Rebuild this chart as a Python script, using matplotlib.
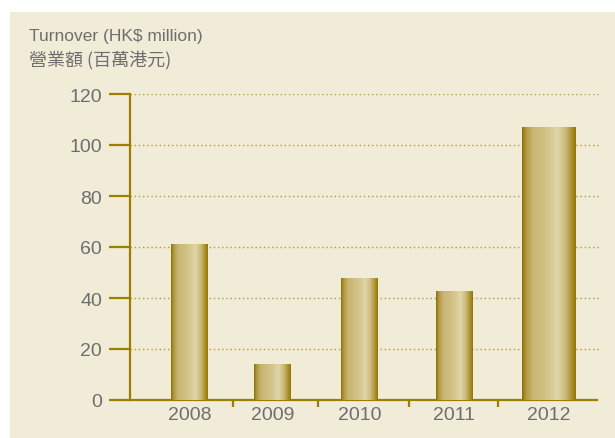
"""Turnover bar chart (HK$ million), 2008-2012."""

import matplotlib

matplotlib.use("Agg")
import matplotlib.pyplot as plt
import numpy as np
from matplotlib.colors import LinearSegmentedColormap
from matplotlib.patches import Rectangle

years = ["2008", "2009", "2010", "2011", "2012"]
turnover = [61.3, 14.2, 47.8, 42.8, 107.0]
y_ticks = [0, 20, 40, 60, 80, 100, 120]

# layout (pixel offsets from the y axis)
_X_POS = [59.5, 142.5, 229.5, 324.5, 419.0]
_WIDTHS = [37, 37, 37, 37, 54]
_SEPARATORS = [103, 188, 279, 368]

_BG = "#F1ECD8"
_AXIS = "#9C7F00"
_GRID = "#B39A3A"
_TEXT = "#6E6E6E"
_FONT = ["Liberation Sans", "DejaVu Sans"]

_BAR_CMAP = LinearSegmentedColormap.from_list(
    "gold",
    [
        (0.0, "#8A6E00"),
        (0.07, "#B09840"),
        (0.2, "#C9B674"),
        (0.45, "#D2C286"),
        (0.66, "#E0D6AA"),
        (0.8, "#CDBB7C"),
        (0.92, "#AC9332"),
        (1.0, "#927500"),
    ],
)

W, H = 615, 439
fig = plt.figure(figsize=(W / 100, H / 100), dpi=100)
fig.patch.set_facecolor("white")
fig.patches.append(
    Rectangle((10 / W, 0), 1 - 10 / W, (H - 13) / H, transform=fig.transFigure,
              facecolor=_BG, edgecolor="none", zorder=-10)
)

ax = fig.add_axes([130 / W, (H - 401) / H, 470 / W, 306 / H])
ax.set_facecolor("none")

grad = np.linspace(0, 1, 256).reshape(1, -1)
bars = ax.bar(_X_POS, turnover, width=_WIDTHS, color="none", zorder=3)
for bar in bars:
    x0, w, h = bar.get_x(), bar.get_width(), bar.get_height()
    im = ax.imshow(grad, cmap=_BAR_CMAP, aspect="auto", extent=(x0, x0 + w, 0, h),
                   interpolation="bicubic", zorder=3)
    im.set_clip_path(bar)
ax.set_xlim(0, 470)
ax.set_ylim(0, 120)

for v in y_ticks[1:]:
    ax.axhline(v, color=_GRID, linestyle=(0, (1, 2)), linewidth=1.0, zorder=1)

for side in ("top", "right"):
    ax.spines[side].set_visible(False)
for side in ("left", "bottom"):
    ax.spines[side].set_color(_AXIS)
    ax.spines[side].set_linewidth(1.6)
ax.spines["bottom"].set_bounds(0, 467)

ax.set_yticks(y_ticks)
ax.tick_params(axis="y", length=15, width=1.6, color=_AXIS, labelcolor=_TEXT,
               labelsize=14, pad=5)
ax.set_xticks(_SEPARATORS)
ax.set_xticklabels([])
ax.tick_params(axis="x", length=5, width=1.6, color=_AXIS, direction="out")
for x, label in zip(_X_POS, years):
    ax.text(x, -2.5, label, ha="center", va="top", fontsize=14, color=_TEXT,
            family=_FONT)
for lbl in ax.get_yticklabels():
    lbl.set_family(_FONT)

fig.text(29 / W, 1 - 37 / H, "Turnover (HK$ million)", fontsize=12.5, color=_TEXT,
         va="center", family=_FONT)
fig.text(29 / W, 1 - 60 / H, "營業額 (百萬港元)", fontsize=13, color=_TEXT,
         va="center", family=["Noto Sans CJK TC", "DejaVu Sans"])

fig.savefig("out.png", dpi=100, facecolor=fig.get_facecolor())
